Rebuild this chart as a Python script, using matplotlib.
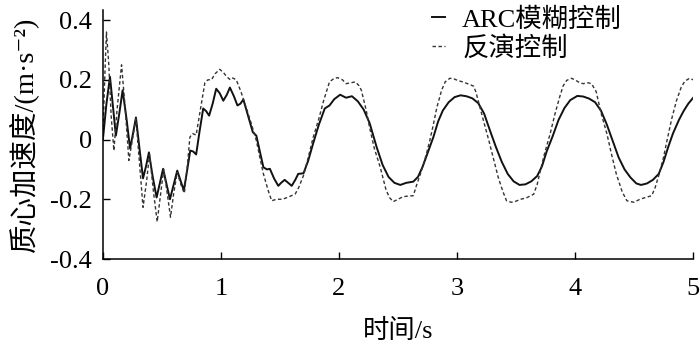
import numpy as np
import matplotlib
matplotlib.use("Agg")
import matplotlib.pyplot as plt

plt.rcParams['font.family'] = ['Liberation Serif', 'Noto Sans CJK SC', 'DejaVu Sans']
plt.rcParams['axes.unicode_minus'] = False

# ARC fuzzy control (solid)
t_arc = [0, 0.03, 0.06, 0.085, 0.11, 0.14, 0.167, 0.2, 0.23, 0.255, 0.28, 0.31, 0.34,
         0.365, 0.39, 0.42, 0.455, 0.48, 0.51, 0.54, 0.568, 0.6, 0.63, 0.66, 0.686,
         0.715, 0.74, 0.765, 0.79, 0.82, 0.85, 0.875, 0.90, 0.93, 0.96, 0.99, 1.02,
         1.05, 1.076, 1.11, 1.14, 1.165, 1.19, 1.23, 1.27, 1.30, 1.33, 1.36, 1.39,
         1.415, 1.45, 1.486, 1.51, 1.54, 1.57, 1.60, 1.63, 1.655, 1.70, 1.74, 1.78,
         1.83, 1.88, 1.92, 1.96, 2.01, 2.06, 2.11, 2.16, 2.21, 2.26, 2.32, 2.37, 2.42,
         2.47, 2.52, 2.57, 2.63, 2.67, 2.71, 2.76, 2.80, 2.84, 2.88, 2.93, 2.98, 3.03,
         3.08, 3.13, 3.18, 3.23, 3.28, 3.33, 3.38, 3.43, 3.48, 3.53, 3.58, 3.63, 3.68,
         3.72, 3.76, 3.81, 3.86, 3.91, 3.96, 4.02, 4.07, 4.12, 4.17, 4.22, 4.27, 4.32,
         4.37, 4.42, 4.47, 4.52, 4.56, 4.61, 4.66, 4.71, 4.75, 4.79, 4.83, 4.88, 4.92,
         4.96, 5.0]
a_arc = [0, 0.12, 0.21, 0.11, 0.013, 0.09, 0.165, 0.07, -0.03, 0.02, 0.074, -0.03, -0.13,
         -0.09, -0.043, -0.12, -0.194, -0.15, -0.098, -0.15, -0.2, -0.15, -0.104, -0.14,
         -0.17, -0.1, -0.037, -0.04, -0.05, 0.03, 0.104, 0.095, 0.08, 0.12, 0.17, 0.155,
         0.13, 0.15, 0.174, 0.145, 0.114, 0.12, 0.134, 0.08, 0.025, 0.013, -0.04, -0.093,
         -0.1, -0.098, -0.13, -0.155, -0.145, -0.135, -0.145, -0.155, -0.135, -0.115,
         -0.113, -0.07, -0.015, 0.05, 0.104, 0.114, 0.135, 0.15, 0.14, 0.145, 0.128,
         0.1, 0.055, -0.026, -0.085, -0.125, -0.145, -0.152, -0.145, -0.141, -0.125,
         -0.09, -0.035, 0.008, 0.06, 0.097, 0.125, 0.142, 0.148, 0.145, 0.138, 0.122,
         0.087, 0.03, -0.025, -0.075, -0.115, -0.14, -0.152, -0.15, -0.14, -0.122,
         -0.09, -0.04, 0.01, 0.065, 0.105, 0.132, 0.146, 0.144, 0.137, 0.125, 0.097,
         0.05, -0.005, -0.06, -0.1, -0.127, -0.147, -0.152, -0.147, -0.135, -0.115,
         -0.075, -0.025, 0.02, 0.065, 0.095, 0.12, 0.139]

# inverse control (dashed)
t_inv = [0, 0.015, 0.03, 0.05, 0.07, 0.093, 0.12, 0.158, 0.19, 0.22, 0.25, 0.28, 0.31,
         0.34, 0.37, 0.395, 0.43, 0.46, 0.49, 0.515, 0.545, 0.573, 0.60, 0.63, 0.66,
         0.69, 0.715, 0.737, 0.76, 0.79, 0.83, 0.864, 0.89, 0.92, 0.95, 0.99, 1.02,
         1.05, 1.08, 1.10, 1.13, 1.17, 1.22, 1.26, 1.30, 1.33, 1.36, 1.40, 1.43, 1.47,
         1.52, 1.57, 1.63, 1.66, 1.70, 1.74, 1.78, 1.83, 1.87, 1.92, 1.96, 1.99, 2.03,
         2.06, 2.10, 2.14, 2.17, 2.19, 2.23, 2.26, 2.30, 2.35, 2.40, 2.43, 2.46, 2.50,
         2.54, 2.57, 2.63, 2.66, 2.70, 2.74, 2.77, 2.80, 2.83, 2.87, 2.90, 2.94, 2.97,
         3.01, 3.05, 3.10, 3.14, 3.16, 3.18, 3.22, 3.27, 3.31, 3.35, 3.39, 3.42, 3.46,
         3.49, 3.54, 3.59, 3.65, 3.68, 3.70, 3.74, 3.79, 3.83, 3.87, 3.90, 3.93, 3.97,
         4.00, 4.04, 4.07, 4.11, 4.14, 4.18, 4.22, 4.27, 4.31, 4.35, 4.40, 4.44, 4.50,
         4.55, 4.59, 4.65, 4.68, 4.71, 4.75, 4.78, 4.82, 4.86, 4.90, 4.93, 4.97, 5.0]
a_inv = [0, 0.2, 0.36, 0.25, 0.08, -0.037, 0.1, 0.25, 0.1, -0.07, 0.0, 0.07, -0.08,
         -0.227, -0.14, -0.05, -0.18, -0.275, -0.18, -0.1, -0.18, -0.26, -0.18, -0.11,
         -0.15, -0.18, -0.09, 0.008, 0.02, 0.015, 0.11, 0.19, 0.2, 0.2, 0.22, 0.235,
         0.225, 0.21, 0.2, 0.206, 0.2, 0.16, 0.1, 0.05, -0.003, -0.06, -0.115, -0.17,
         -0.205, -0.2, -0.2, -0.193, -0.182, -0.16, -0.12, -0.06, 0.005, 0.07, 0.13,
         0.193, 0.205, 0.207, 0.2, 0.187, 0.19, 0.193, 0.18, 0.165, 0.1, 0.04, -0.03,
         -0.093, -0.17, -0.195, -0.208, -0.2, -0.192, -0.19, -0.188, -0.15, -0.104,
         -0.05, -0.003, 0.05, 0.108, 0.165, 0.193, 0.205, 0.204, 0.197, 0.193, 0.185,
         0.179, 0.16, 0.13, 0.07, -0.003, -0.065, -0.127, -0.175, -0.205, -0.21, -0.208,
         -0.2, -0.195, -0.183, -0.15, -0.115, -0.05, 0.02, 0.085, 0.142, 0.18, 0.198,
         0.205, 0.2, 0.19, 0.187, 0.19, 0.187, 0.16, 0.09, 0.02, -0.05, -0.115, -0.175,
         -0.205, -0.21, -0.2, -0.195, -0.188, -0.16, -0.12, -0.06, -0.003, 0.07, 0.13,
         0.175, 0.195, 0.205, 0.2]

x_ticks = [0, 1, 2, 3, 4, 5]
y_ticks = [-0.4, -0.2, 0, 0.2, 0.4]
y_ticklabels = ['-0.4', '-0.2', '0', '0.2', '0.4']

fig = plt.figure(figsize=(7, 3.46), dpi=100)
ax = fig.add_axes([0.147, 0.2514, 0.843, 0.72])

ax.plot(t_arc, a_arc, color='#111111', lw=1.4, label='ARC模糊控制')
ax.plot(t_inv, a_inv, color='#333333', lw=1.0, linestyle=(0, (2.5, 1.8)), label='反演控制')

ax.set_xlim(0, 5)
ax.set_ylim(-0.4, 0.434)
ax.set_xticks(x_ticks)
ax.set_yticks(y_ticks)
ax.set_yticklabels(y_ticklabels)
ax.tick_params(direction='in', length=5, width=1, labelsize=19)
ax.tick_params(axis='x', pad=14)
ax.tick_params(axis='y', pad=8)
ax.spines['top'].set_visible(False)
ax.spines['right'].set_visible(False)
for s in ['left', 'bottom']:
    ax.spines[s].set_linewidth(1.1)

ax.set_xlabel('时间/s', fontsize=19, labelpad=13)
ax.set_ylabel('质心加速度/(m·s⁻²)', fontsize=20.5, labelpad=8)

ax.legend(loc='upper left', bbox_to_anchor=(0.535, 1.065), frameon=False, fontsize=19,
          handlelength=0.5, handletextpad=0.65, labelspacing=0.15, borderpad=0)

fig.savefig('out.png', dpi=100)
